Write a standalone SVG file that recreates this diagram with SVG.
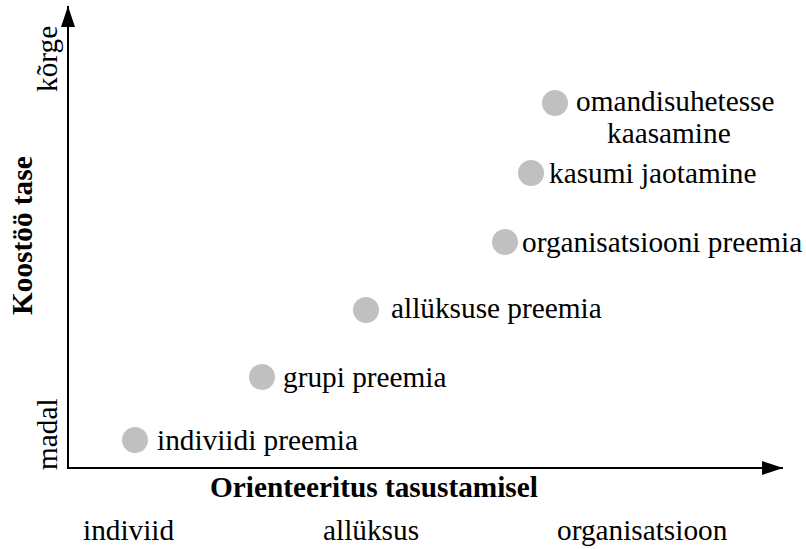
<svg xmlns="http://www.w3.org/2000/svg" width="806" height="549" viewBox="0 0 806 549">
  <style>
    .lbl { font-family: "Liberation Serif", "Times New Roman", serif; font-size: 29.3px; fill: #000; }
    .ttl { font-family: "Liberation Serif", "Times New Roman", serif; font-size: 29.3px; font-weight: bold; fill: #000; }
    .dot { fill: #c0c0c0; }
    .axis { stroke: #000; stroke-width: 2; fill: none; }
  </style>
  <defs>
    <marker id="arrow" viewBox="0 0 21 14" refX="21" refY="7" markerWidth="21" markerHeight="14" markerUnits="userSpaceOnUse" orient="auto">
      <path d="M0,0 L21,7 L0,14 Z" fill="#000"/>
    </marker>
  </defs>

  <!-- axes -->
  <g id="connectors">
    <line class="axis" x1="68" y1="469" x2="68" y2="6" marker-end="url(#arrow)"/>
    <line class="axis" x1="67" y1="468" x2="783" y2="468" marker-end="url(#arrow)"/>
  </g>

  <!-- axis titles and scale labels -->
  <g id="axis-labels">
    <text class="lbl" transform="translate(57,92) rotate(-90)">kõrge</text>
    <text class="lbl" transform="translate(57,470) rotate(-90)">madal</text>
    <text class="ttl" transform="translate(32,315) rotate(-90)">Koostöö tase</text>
    <text class="ttl" x="210" y="497">Orienteeritus tasustamisel</text>
    <text class="lbl" x="83" y="540">indiviid</text>
    <text class="lbl" x="323" y="540">allüksus</text>
    <text class="lbl" x="557" y="540">organisatsioon</text>
  </g>

  <!-- data points -->
  <g id="indiviidi-preemia">
    <circle class="dot" cx="135" cy="440" r="13"/>
    <text class="lbl" x="157" y="450">indiviidi preemia</text>
  </g>
  <g id="grupi-preemia">
    <circle class="dot" cx="262" cy="377" r="13"/>
    <text class="lbl" x="283" y="387">grupi preemia</text>
  </g>
  <g id="allyksuse-preemia">
    <circle class="dot" cx="366" cy="310" r="13"/>
    <text class="lbl" x="391" y="318">allüksuse preemia</text>
  </g>
  <g id="organisatsiooni-preemia">
    <circle class="dot" cx="505" cy="242" r="13"/>
    <text class="lbl" x="522" y="252">organisatsiooni preemia</text>
  </g>
  <g id="kasumi-jaotamine">
    <circle class="dot" cx="531" cy="173" r="13"/>
    <text class="lbl" x="549" y="183">kasumi jaotamine</text>
  </g>
  <g id="omandisuhetesse-kaasamine">
    <circle class="dot" cx="555" cy="103" r="13"/>
    <text class="lbl" x="576" y="111">omandisuhetesse</text>
    <text class="lbl" x="607" y="143">kaasamine</text>
  </g>
</svg>
